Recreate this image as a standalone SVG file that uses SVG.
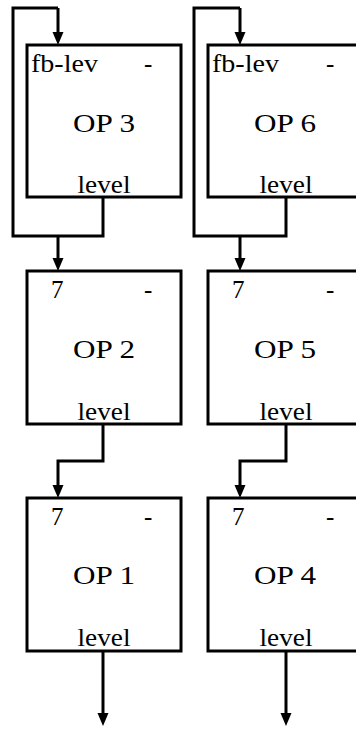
<svg xmlns="http://www.w3.org/2000/svg" width="356" height="729" viewBox="0 0 356 729">
<style>
.box{fill:none;stroke:#000;stroke-width:3}
.c{fill:none;stroke:#000;stroke-width:3;stroke-linejoin:miter}
.t{font-size:25px;fill:#000}
.m{text-anchor:middle}
</style>
<defs>
<marker id="ah" markerUnits="userSpaceOnUse" markerWidth="14" markerHeight="12" refX="3" refY="5.5" orient="auto" viewBox="0 0 14 11">
<path d="M0,0 L13,5.5 L0,11 z" fill="#000"/>
</marker>
</defs>
<g id="connectors">
<path class="c" d="M58,8 L58,35" marker-end="url(#ah)"/>
<path class="c" d="M103,197 L103,236 L13,236 L13,8 L58,8"/>
<path class="c" d="M58,236 L58,261" marker-end="url(#ah)"/>
<path class="c" d="M103,424 L103,461 L58,461 L58,488" marker-end="url(#ah)"/>
<path class="c" d="M103,651 L103,716" marker-end="url(#ah)"/>
<path class="c" d="M240,8 L240,35" marker-end="url(#ah)"/>
<path class="c" d="M286,197 L286,236 L194,236 L194,8 L240,8"/>
<path class="c" d="M240,236 L240,261" marker-end="url(#ah)"/>
<path class="c" d="M286,424 L286,461 L240,461 L240,488" marker-end="url(#ah)"/>
<path class="c" d="M286,651 L286,716" marker-end="url(#ah)"/>
</g>
<g class="t" font-family="Liberation Serif, Times New Roman, serif">
<g id="op3">
<rect class="box" x="27" y="45" width="154" height="152"/>
<text x="31" y="72" textLength="67" lengthAdjust="spacingAndGlyphs">fb-lev</text>
<text x="144" y="72">-</text>
<text class="m" x="104" y="132" textLength="62" lengthAdjust="spacingAndGlyphs">OP 3</text>
<text class="m" x="104" y="193" textLength="53" lengthAdjust="spacingAndGlyphs">level</text>
</g>
<g id="op2">
<rect class="box" x="27" y="271" width="154" height="153"/>
<text x="51" y="298">7</text>
<text x="144" y="298">-</text>
<text class="m" x="104" y="358" textLength="62" lengthAdjust="spacingAndGlyphs">OP 2</text>
<text class="m" x="104" y="420" textLength="53" lengthAdjust="spacingAndGlyphs">level</text>
</g>
<g id="op1">
<rect class="box" x="27" y="498" width="154" height="153"/>
<text x="51" y="525">7</text>
<text x="144" y="525">-</text>
<text class="m" x="104" y="584" textLength="62" lengthAdjust="spacingAndGlyphs">OP 1</text>
<text class="m" x="104" y="646" textLength="53" lengthAdjust="spacingAndGlyphs">level</text>
</g>
<g id="op6">
<rect class="box" x="208" y="45" width="154" height="152"/>
<text x="212" y="72" textLength="67" lengthAdjust="spacingAndGlyphs">fb-lev</text>
<text x="326" y="72">-</text>
<text class="m" x="285" y="132" textLength="62" lengthAdjust="spacingAndGlyphs">OP 6</text>
<text class="m" x="286" y="193" textLength="53" lengthAdjust="spacingAndGlyphs">level</text>
</g>
<g id="op5">
<rect class="box" x="208" y="271" width="154" height="153"/>
<text x="232" y="298">7</text>
<text x="326" y="298">-</text>
<text class="m" x="285" y="358" textLength="62" lengthAdjust="spacingAndGlyphs">OP 5</text>
<text class="m" x="286" y="420" textLength="53" lengthAdjust="spacingAndGlyphs">level</text>
</g>
<g id="op4">
<rect class="box" x="208" y="498" width="154" height="153"/>
<text x="232" y="525">7</text>
<text x="326" y="525">-</text>
<text class="m" x="285" y="584" textLength="62" lengthAdjust="spacingAndGlyphs">OP 4</text>
<text class="m" x="286" y="646" textLength="53" lengthAdjust="spacingAndGlyphs">level</text>
</g>
</g>
</svg>
